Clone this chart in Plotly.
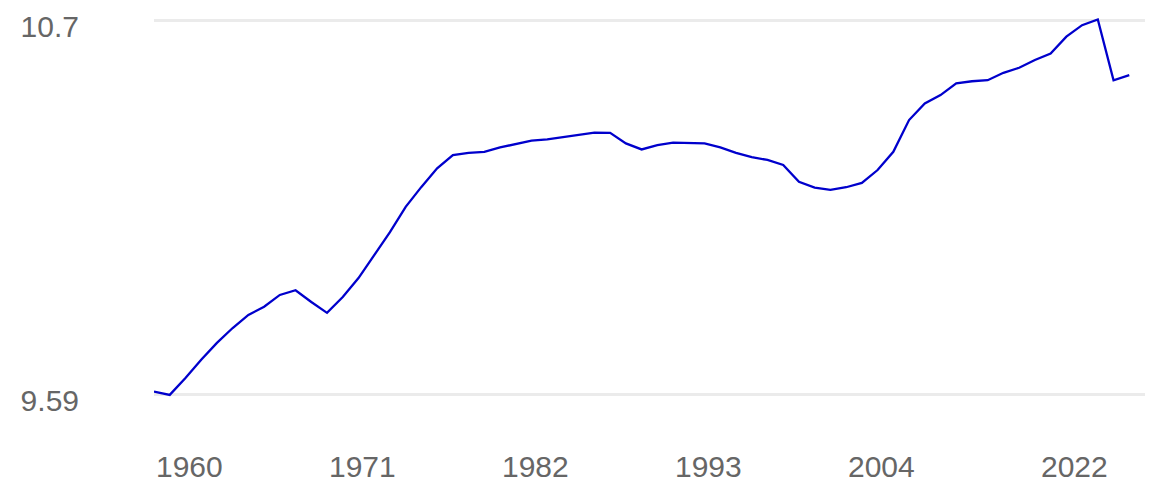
import plotly.graph_objects as go

years = list(range(1960, 2023))
values = [
    9.600, 9.590, 9.640, 9.694, 9.744, 9.788, 9.827, 9.851, 9.886, 9.900,
    9.865, 9.833, 9.880, 9.936, 10.004, 10.072, 10.147, 10.206, 10.261, 10.300,
    10.307, 10.310, 10.323, 10.332, 10.343, 10.347, 10.353, 10.360, 10.367, 10.366,
    10.335, 10.317, 10.330, 10.337, 10.337, 10.335, 10.323, 10.307, 10.294, 10.286,
    10.271, 10.221, 10.204, 10.197, 10.205, 10.218, 10.256, 10.310, 10.404, 10.453,
    10.478, 10.513, 10.519, 10.522, 10.544, 10.559, 10.582, 10.601, 10.651, 10.685,
    10.702, 10.522, 10.537,
]
x_tick_years = [1960, 1971, 1982, 1993, 2004, 2022]
x_tick_labels = ["1960", "1971", "1982", "1993", "2004", "2022"]
y_tick_values = [9.59, 10.7]
y_tick_labels = ["9.59", "10.7"]

FONT = "Liberation Sans, Arial, sans-serif"
TXT = "#666666"

fig = go.Figure()
fig.add_trace(go.Scatter(
    x=years, y=values, mode="lines",
    line=dict(color="#0000cc", width=2.3),
    hoverinfo="x+y", showlegend=False,
))

for yr, lab in zip(x_tick_years, x_tick_labels):
    last = yr == x_tick_years[-1]
    fig.add_annotation(
        x=yr, xref="x", y=0, yref="paper",
        text=lab, showarrow=False,
        xanchor="right" if last else "left",
        yanchor="middle",
        xshift=-19 if last else 0,
        yshift=-61,
        font=dict(family=FONT, size=30, color=TXT),
    )

fig.update_layout(
    width=1150, height=474,
    margin=dict(l=146, r=13, t=2, b=77, autoexpand=False),
    paper_bgcolor="white", plot_bgcolor="white",
    xaxis=dict(
        range=[1960, 2023], showgrid=False, zeroline=False,
        showticklabels=False, showline=False, ticks="", automargin=False,
    ),
    yaxis=dict(
        range=[9.56, 10.73], automargin=False,
        tickvals=y_tick_values, ticktext=y_tick_labels,
        showgrid=True, gridcolor="#ebebeb", gridwidth=3,
        zeroline=False, showline=False, ticks="",
        ticklabelstandoff=74, ticklabeloverflow="allow",
        ticklabelshift=6,
        tickfont=dict(family=FONT, size=30, color=TXT),
    ),
)

fig.write_html("out.html")
